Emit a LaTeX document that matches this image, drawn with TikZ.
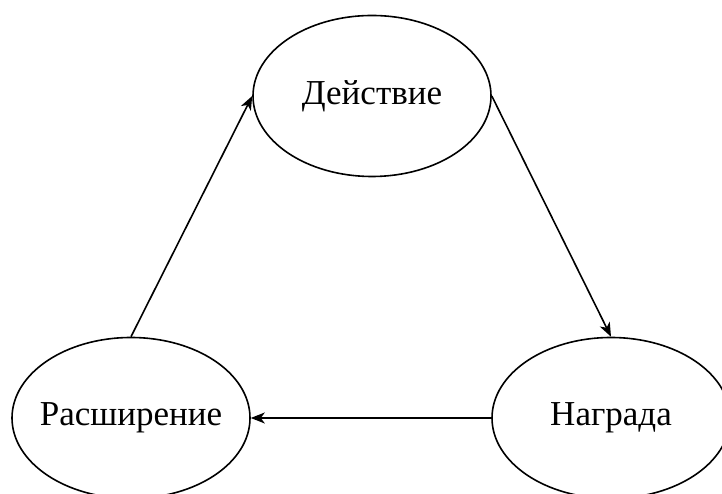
\documentclass[tikz,border=0pt]{standalone}
\usepackage{fontspec}
\setmainfont{Liberation Serif}
\usetikzlibrary{shapes.geometric,arrows.meta}
\newcommand{\nowidth}[1]{\makebox[0pt]{#1}}
\begin{document}
\begin{tikzpicture}[x=1pt,y=1pt,
  stage/.style={ellipse,draw,line width=1.6pt,minimum width=238pt,minimum height=161pt,inner sep=0pt,font=\fontsize{35}{40}\selectfont},
  flow/.style={line width=1.6pt,-{Stealth[length=14pt,width=11pt,inset=4pt]}}]
\useasboundingbox (0,0) rectangle (722,494);
\node[stage] (act) at (372,398) {\nowidth{Действие}};
\node[stage] (ext) at (131,76) {\nowidth{Расширение}};
\node[stage] (rew) at (611,76) {\nowidth{Награда}};
\draw[flow] (ext.north) -- (act.west);
\draw[flow] (act.east) -- (rew.north);
\draw[flow] (rew.west) -- (ext.east);
\end{tikzpicture}
\end{document}
